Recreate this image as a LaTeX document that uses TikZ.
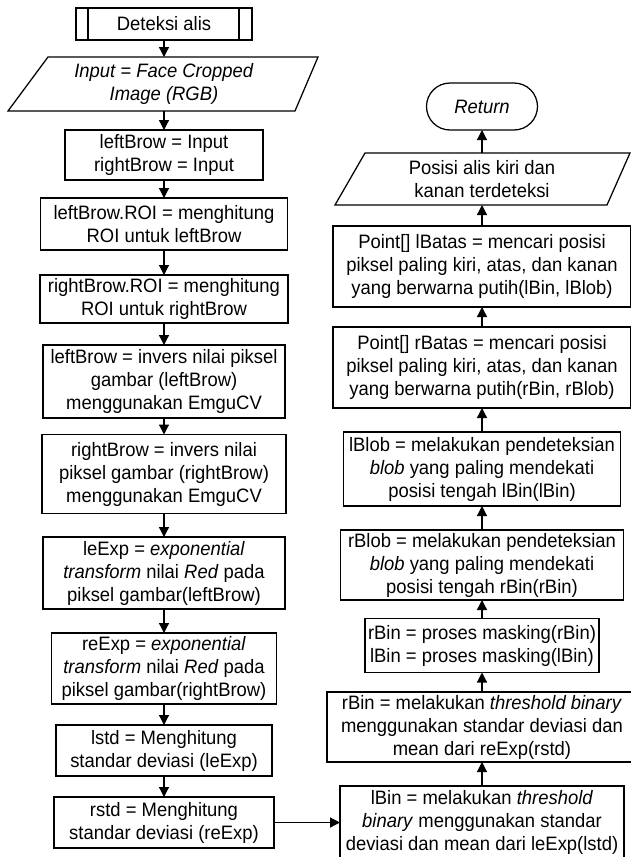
\documentclass[tikz,border=0pt]{standalone}
\usepackage{fontspec}
\setmainfont[FakeStretch=0.95]{Liberation Sans}
\usetikzlibrary{arrows.meta}
\begin{document}
\begin{tikzpicture}[x=1pt,y=-1pt,
  txt/.style={font=\fontsize{19.4}{23}\selectfont, align=center, inner sep=0pt, outer sep=0pt},
  box/.style={txt, draw, line width=1.25pt, rectangle},
  shapeline/.style={line width=1.25pt, line join=miter},
  arr/.style={-{Triangle[length=10pt,width=10pt]}, line width=1.25pt},
  sz/.style n args={2}{minimum width=#1pt, minimum height=#2pt}]
\useasboundingbox (0,0) rectangle (631,857);
% left column
\node[box, sz={176}{32}] (st) at (164,24) {Deteksi alis};
\draw[shapeline] ([xshift=12pt]st.north west) -- ([xshift=12pt]st.south west);
\draw[shapeline] ([xshift=-13pt]st.north east) -- ([xshift=-13pt]st.south east);
\draw[shapeline] (48,57) -- (318,57) -- (295,111) -- (8,111) -- cycle;
\node[txt, sz={240}{54}] (inp) at (164,84) {\textit{Input = Face Cropped}\\\textit{Image (RGB)}};
\node[box, sz={198}{50}] (b1) at (164,155) {leftBrow = Input\\rightBrow = Input};
\node[box, sz={247}{52}] (b2) at (164,224) {leftBrow.ROI = menghitung\\ROI untuk leftBrow};
\node[box, sz={248}{48}] (b3) at (164,299) {rightBrow.ROI = menghitung\\ROI untuk rightBrow};
\node[box, sz={242}{73}] (b4) at (164,381.5) {leftBrow = invers nilai piksel\\gambar (leftBrow)\\menggunakan EmguCV};
\node[box, sz={244}{79}] (b5) at (164,474) {rightBrow = invers nilai\\piksel gambar (rightBrow)\\menggunakan EmguCV};
\node[box, sz={242}{72}] (b6) at (164,573) {leExp = \textit{exponential}\\\textit{transform} nilai \textit{Red} pada\\piksel gambar(leftBrow)};
\node[box, sz={225}{71}] (b7) at (164,668.5) {reExp = \textit{exponential}\\\textit{transform} nilai \textit{Red} pada\\piksel gambar(rightBrow)};
\node[box, sz={216}{51}] (b8) at (164,750.5) {lstd = Menghitung\\standar deviasi (leExp)};
\node[box, sz={220}{51}] (b9) at (164,822.5) {rstd = Menghitung\\standar deviasi (reExp)};
% right column
\node[box, sz={111}{47}, rounded corners=23.5pt] (r1) at (482,106.5) {\textit{Return}};
\draw[shapeline] (365,153) -- (630,153) -- (607,205) -- (335,205) -- cycle;
\node[txt, sz={240}{52}] (r2) at (482,179) {Posisi alis kiri dan\\kanan terdeteksi};
\node[box, sz={298}{81}] (r3) at (482,266.5) {Point[] lBatas = mencari posisi\\piksel paling kiri, atas, dan kanan\\yang berwarna putih(lBin, lBlob)};
\node[box, sz={298}{81}] (r4) at (482,367.5) {Point[] rBatas = mencari posisi\\piksel paling kiri, atas, dan kanan\\yang berwarna putih(rBin, rBlob)};
\node[box, sz={277}{74}] (r5) at (482,469) {lBlob = melakukan pendeteksian\\\textit{blob} yang paling mendekati\\posisi tengah lBin(lBin)};
\node[box, sz={283}{70}] (r6) at (482,565) {rBlob = melakukan pendeteksian\\\textit{blob} yang paling mendekati\\posisi tengah rBin(rBin)};
\node[box, sz={234}{54}] (r7) at (482,645.5) {rBin = proses masking(rBin)\\lBin = proses masking(lBin)};
\node[box, sz={310}{70}] (r8) at (482,727) {rBin = melakukan \textit{threshold binary}\\menggunakan standar deviasi dan\\mean dari reExp(rstd)};
\node[box, sz={284}{73}] (r9) at (482,822.5) {lBin = melakukan \textit{threshold}\\\textit{binary} menggunakan standar\\deviasi dan mean dari leExp(lstd)};
% connectors
\draw[arr] (st) -- (inp);
\draw[arr] (inp) -- (b1);
\draw[arr] (b1) -- (b2);
\draw[arr] (b2) -- (b3);
\draw[arr] (b3) -- (b4);
\draw[arr] (b4) -- (b5);
\draw[arr] (b5) -- (b6);
\draw[arr] (b6) -- (b7);
\draw[arr] (b7) -- (b8);
\draw[arr] (b8) -- (b9);
\draw[arr] (b9) -- (r9);
\draw[arr] (r9) -- (r8);
\draw[arr] (r8) -- (r7);
\draw[arr] (r7) -- (r6);
\draw[arr] (r6) -- (r5);
\draw[arr] (r5) -- (r4);
\draw[arr] (r4) -- (r3);
\draw[arr] (r3) -- (r2);
\draw[arr] (r2) -- (r1);
\end{tikzpicture}
\end{document}
